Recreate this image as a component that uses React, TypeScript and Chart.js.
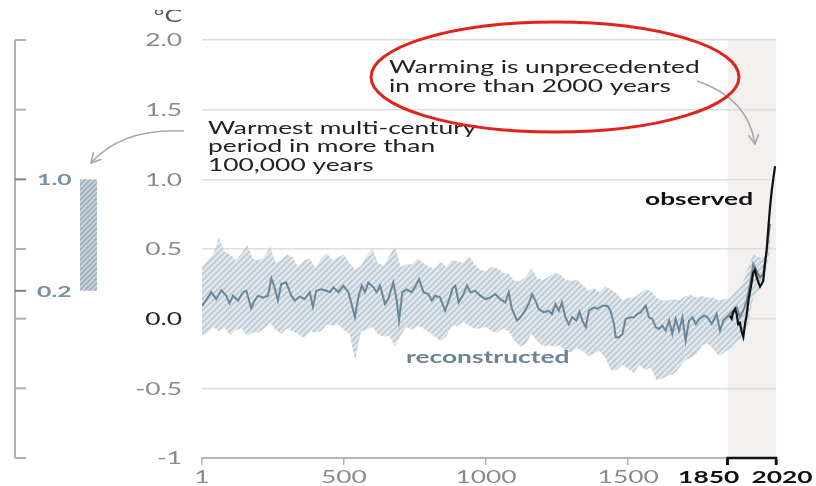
import React, { useEffect, useRef } from "react";
import { Chart, registerables } from "chart.js";

Chart.register(...registerables);

// ---------- data ----------
const bandYears = [
  1, 20, 40, 60, 80, 100, 120, 140, 160, 180, 200,
  220, 240, 260, 280, 300, 320, 340, 360, 380, 400,
  420, 440, 460, 480, 500, 520, 540, 560, 580, 600,
  620, 640, 660, 680, 700, 720, 740, 760, 780, 800,
  820, 840, 860, 880, 900, 920, 940, 960, 980, 1000,
  1020, 1040, 1060, 1080, 1100, 1120, 1140, 1160, 1180, 1200,
  1220, 1240, 1260, 1280, 1300, 1320, 1340, 1360, 1380, 1400,
  1420, 1440, 1460, 1480, 1500, 1520, 1540, 1560, 1580, 1600,
  1620, 1640, 1660, 1680, 1700, 1720, 1740, 1760, 1780, 1800,
  1820, 1840, 1860, 1880, 1900, 1920, 1940, 1960, 1980, 2000,
];
const bandUpper = [
  0.37, 0.42, 0.46, 0.58, 0.48, 0.46, 0.42, 0.47, 0.53, 0.43, 0.42,
  0.44, 0.52, 0.40, 0.42, 0.46, 0.44, 0.37, 0.42, 0.43, 0.36,
  0.43, 0.47, 0.42, 0.44, 0.46, 0.40, 0.35, 0.38, 0.45, 0.50,
  0.40, 0.38, 0.45, 0.52, 0.37, 0.39, 0.39, 0.43, 0.40, 0.37,
  0.36, 0.41, 0.37, 0.42, 0.41, 0.40, 0.45, 0.39, 0.35, 0.34,
  0.37, 0.36, 0.33, 0.32, 0.27, 0.27, 0.30, 0.36, 0.29, 0.28,
  0.30, 0.33, 0.32, 0.28, 0.27, 0.28, 0.24, 0.20, 0.22, 0.19,
  0.23, 0.21, 0.18, 0.13, 0.15, 0.15, 0.18, 0.21, 0.20, 0.15,
  0.13, 0.13, 0.14, 0.13, 0.16, 0.17, 0.15, 0.16, 0.15, 0.15,
  0.13, 0.14, 0.15, 0.20, 0.24, 0.36, 0.46, 0.44, 0.44, 0.62,
];
const bandLower = [
  -0.12, -0.10, -0.06, -0.09, -0.06, -0.12, -0.08, -0.07, -0.12, -0.10, -0.10,
  -0.07, -0.03, -0.08, -0.11, -0.07, -0.09, -0.11, -0.14, -0.09, -0.10,
  -0.09, -0.04, -0.05, -0.04, -0.08, -0.11, -0.30, -0.09, -0.08, -0.06,
  -0.11, -0.13, -0.12, -0.20, -0.12, -0.06, -0.08, -0.05, -0.07, -0.10,
  -0.13, -0.16, -0.13, -0.05, -0.05, -0.02, -0.05, -0.07, -0.07, -0.06,
  -0.09, -0.10, -0.07, -0.09, -0.16, -0.20, -0.18, -0.11, -0.16, -0.20,
  -0.19, -0.20, -0.19, -0.24, -0.24, -0.21, -0.23, -0.27, -0.25, -0.23,
  -0.28, -0.37, -0.37, -0.33, -0.36, -0.39, -0.33, -0.37, -0.35, -0.44,
  -0.43, -0.41, -0.40, -0.35, -0.30, -0.28, -0.26, -0.19, -0.18, -0.22,
  -0.27, -0.24, -0.21, -0.17, -0.14, -0.05, 0.15, 0.20, 0.29, 0.50,
];

const medianYears = [
  1, 34, 51, 69, 86, 98, 110, 128, 145, 157, 174, 186, 198, 216, 233, 245, 257, 268, 280, 297,
  315, 327, 345, 362, 380, 391, 403, 421, 438, 451, 463, 481, 498, 516, 527, 539, 551, 563, 574, 586,
  604, 615, 627, 645, 656, 674, 686, 694, 706, 721, 738, 750, 764, 780, 797, 809, 821, 838, 856, 873,
  883, 892, 904, 921, 933, 945, 962, 980, 998, 1015, 1033, 1050, 1068, 1080, 1091, 1109, 1121, 1133, 1150, 1162,
  1174, 1185, 1203, 1220, 1232, 1244, 1256, 1267, 1279, 1291, 1303, 1318, 1329, 1339, 1351, 1362, 1380, 1392, 1409, 1427,
  1438, 1450, 1456, 1468, 1480, 1491, 1509, 1521, 1532, 1544, 1562, 1573, 1585, 1597, 1609, 1620, 1632, 1644, 1655, 1667,
  1679, 1691, 1702, 1714, 1726, 1738, 1751, 1767, 1779, 1794, 1811, 1823, 1835, 1847, 1858, 1870, 1882, 1893, 1905, 1917,
  1929, 1940, 1952, 1964, 1975, 1987, 1999,
];
const medianValues = [
  0.09, 0.19, 0.14, 0.205, 0.165, 0.11, 0.165, 0.13, 0.19, 0.2, 0.076, 0.13, 0.165, 0.15, 0.165, 0.29, 0.22, 0.13, 0.25, 0.26,
  0.165, 0.13, 0.16, 0.14, 0.19, 0.086, 0.2, 0.21, 0.2, 0.19, 0.225, 0.19, 0.237, 0.19, 0.105, 0.01, 0.153, 0.237, 0.19, 0.26,
  0.225, 0.19, 0.237, 0.105, 0.14, 0.26, 0.13, -0.014, 0.19, 0.21, 0.19, 0.225, 0.284, 0.19, 0.177, 0.13, 0.165, 0.153, 0.057, 0.153,
  0.22, 0.237, 0.117, 0.177, 0.237, 0.19, 0.2, 0.165, 0.14, 0.153, 0.177, 0.14, 0.117, 0.19, 0.07, -0.014, 0.01, 0.045, 0.105, 0.177,
  0.13, 0.07, 0.045, 0.057, 0.033, 0.105, 0.057, 0.117, 0.01, -0.04, 0.01, -0.014, 0.05, -0.014, -0.062, 0.057, 0.081, 0.07, 0.093, 0.093,
  0.057, -0.038, -0.134, -0.134, -0.11, -0.002, 0.01, 0.01, 0.033, 0.045, 0.093, 0.01, -0.002, -0.062, -0.074, -0.05, -0.086, -0.014, -0.11, -0.002,
  -0.086, 0.01, -0.158, -0.014, 0.01, -0.038, 0.0, 0.022, 0.01, -0.038, 0.033, -0.086, -0.014, 0.01, 0.033, 0.057, 0.081, 0.01, 0.057, 0.129,
  0.249, 0.392, 0.344, 0.296, 0.32, 0.487, 0.68,
];

const observedYears = [
  1858, 1864, 1870, 1876, 1882, 1887, 1893, 1899, 1905, 1911, 1917, 1923, 1929, 1935, 1940,
  1946, 1952, 1958, 1964, 1970, 1975, 1981, 1987, 1993, 1999, 2005, 2011, 2016, 2020,
];
const observedValues = [
  0.02, 0.0, 0.05, 0.07, 0.03, -0.04, -0.03, -0.09, -0.13, -0.04, 0.03, 0.13, 0.2, 0.27, 0.33,
  0.35, 0.3, 0.26, 0.23, 0.25, 0.27, 0.39, 0.49, 0.65, 0.8, 0.92, 1.01, 1.085, 1.09,
];

const xTickValues = [1, 500, 1000, 1500, 1850, 2020];
const observedPeriod = [1850, 2020];
const yMin = -1;
const yMax = 2;
const yStep = 0.5;
const leftAxisTicks = [2, 1.5, 1, 0.5, 0.2, 0, -0.5, -1];
const warmestRange = [0.2, 1.0];

const FONT = "Lato, 'Open Sans', sans-serif";
const SX = 1.55;

function drawText(
  ctx: CanvasRenderingContext2D,
  str: string,
  x: number,
  y: number,
  size: number,
  color: string,
  align: CanvasTextAlign = "left",
  weight = "normal",
  baseline: CanvasTextBaseline = "alphabetic"
) {
  ctx.save();
  ctx.translate(x, y);
  ctx.scale(SX, 1);
  ctx.font = `${weight} ${size}px ${FONT}`;
  ctx.fillStyle = color;
  ctx.textAlign = align;
  ctx.textBaseline = baseline;
  ctx.fillText(str, 0, 0);
  ctx.restore();
}

function makeHatch(ctx: CanvasRenderingContext2D, bg: string, fg: string, size: number, lw: number) {
  const c = document.createElement("canvas");
  c.width = size;
  c.height = size;
  const g = c.getContext("2d")!;
  g.fillStyle = bg;
  g.fillRect(0, 0, size, size);
  g.strokeStyle = fg;
  g.lineWidth = lw;
  g.beginPath();
  g.moveTo(0, size);
  g.lineTo(size, 0);
  g.moveTo(-size / 2, size / 2);
  g.lineTo(size / 2, -size / 2);
  g.moveTo(size / 2, size * 1.5);
  g.lineTo(size * 1.5, size / 2);
  g.stroke();
  return ctx.createPattern(c, "repeat")!;
}

function arrow(ctx: CanvasRenderingContext2D, x0: number, y0: number, cx: number, cy: number, x1: number, y1: number) {
  ctx.save();
  ctx.strokeStyle = "#a8a8a8";
  ctx.lineWidth = 1.6;
  ctx.beginPath();
  ctx.moveTo(x0, y0);
  ctx.quadraticCurveTo(cx, cy, x1, y1);
  ctx.stroke();
  const ang = Math.atan2(y1 - cy, x1 - cx);
  const L = 11;
  ctx.beginPath();
  ctx.moveTo(x1 - L * Math.cos(ang - 0.5), y1 - L * Math.sin(ang - 0.5));
  ctx.lineTo(x1, y1);
  ctx.lineTo(x1 - L * Math.cos(ang + 0.5), y1 - L * Math.sin(ang + 0.5));
  ctx.stroke();
  ctx.restore();
}

export default function App() {
  const ref = useRef<HTMLCanvasElement | null>(null);

  useEffect(() => {
    document.body.style.margin = "0";
    const canvas = ref.current!;
    const ctx = canvas.getContext("2d")!;
    const bandPattern = makeHatch(ctx, "#c3cfd8", "#e8edf1", 6, 1.7);
    const barPattern = makeHatch(ctx, "#c9d2da", "#97a9b7", 5, 1.4);

    const shadePlugin = {
      id: "shade",
      beforeDraw(chart: any) {
        const { ctx, chartArea, scales } = chart;
        const x0 = scales.x.getPixelForValue(observedPeriod[0]);
        const x1 = scales.x.getPixelForValue(observedPeriod[1]);
        ctx.save();
        ctx.fillStyle = "#f4f0ef";
        ctx.fillRect(x0, chartArea.top, x1 - x0, chartArea.bottom - chartArea.top);
        ctx.restore();
      },
    };

    const decorPlugin = {
      id: "decor",
      afterDraw(chart: any) {
        const { ctx, scales } = chart;
        const xs = scales.x;
        const ys = scales.y;
        const bottom = chart.chartArea.bottom;

        // y tick labels
        ys.ticks.forEach((t: any) => {
          const v = t.value;
          const label = v === -1 ? "-1" : v.toFixed(1);
          drawText(ctx, label, 182, ys.getPixelForValue(v) + 1, 17, v === 0 ? "#222" : "#8a8a8a", "right", "normal", "middle");
        });
        // unit label, partly cut at the top as in the source image
        ctx.save();
        ctx.beginPath();
        ctx.rect(140, 10, 60, 20);
        ctx.clip();
        drawText(ctx, "°C", 182, 22, 17, "#555", "right");
        ctx.restore();

        // x tick labels
        xs.ticks.forEach((t: any) => {
          const v = t.value;
          const px = xs.getPixelForValue(v);
          const strong = v >= observedPeriod[0];
          let cx = px;
          if (v === observedPeriod[0]) cx = px - 19;
          if (v === observedPeriod[1]) cx = px + 6;
          drawText(ctx, String(v), cx, 478, 17, strong ? "#111" : "#8a8a8a", "center", strong ? "bold" : "normal", "middle");
        });

        // black bracket for observed period
        const b0 = xs.getPixelForValue(observedPeriod[0]);
        const b1 = xs.getPixelForValue(observedPeriod[1]);
        ctx.save();
        ctx.strokeStyle = "#111";
        ctx.lineWidth = 2.5;
        ctx.beginPath();
        ctx.moveTo(b0, bottom + 7);
        ctx.lineTo(b0, bottom);
        ctx.lineTo(b1, bottom);
        ctx.lineTo(b1, bottom + 7);
        ctx.stroke();
        ctx.restore();

        // left mini axis
        ctx.save();
        ctx.strokeStyle = "#b0b0b0";
        ctx.lineWidth = 2;
        ctx.beginPath();
        ctx.moveTo(15, ys.getPixelForValue(yMax));
        ctx.lineTo(15, ys.getPixelForValue(yMin));
        ctx.stroke();
        leftAxisTicks.forEach((v) => {
          const py = ys.getPixelForValue(v);
          const hl = warmestRange.includes(v);
          ctx.strokeStyle = hl ? "#6f8799" : "#b0b0b0";
          ctx.beginPath();
          ctx.moveTo(15, py);
          ctx.lineTo(26, py);
          ctx.stroke();
        });
        ctx.restore();
        warmestRange.forEach((v) => {
          drawText(ctx, v.toFixed(1), 37, ys.getPixelForValue(v) + 1, 16, "#7690a4", "left", "bold", "middle");
        });
        const yTop = ys.getPixelForValue(warmestRange[1]);
        const yBot = ys.getPixelForValue(warmestRange[0]);
        ctx.save();
        ctx.fillStyle = barPattern;
        ctx.fillRect(80, yTop, 17, yBot - yTop);
        ctx.restore();

        // annotations
        drawText(ctx, "Warmest multi-century", 208, 134, 17, "#222");
        drawText(ctx, "period in more than", 208, 152, 17, "#222");
        drawText(ctx, "100,000 years", 208, 171, 17, "#222");
        arrow(ctx, 184, 131, 122, 128, 91, 163);

        drawText(ctx, "Warming is unprecedented", 389, 73, 17, "#222");
        drawText(ctx, "in more than 2000 years", 389, 92, 17, "#222");
        arrow(ctx, 697, 81, 748, 98, 755, 144);

        ctx.save();
        ctx.strokeStyle = "#e2231c";
        ctx.lineWidth = 3;
        ctx.beginPath();
        ctx.ellipse(555, 77, 184, 55, 0, 0, Math.PI * 2);
        ctx.stroke();
        ctx.restore();

        drawText(ctx, "observed", 645, 205, 17, "#111", "left", "bold");
        drawText(ctx, "reconstructed", 406, 363, 17, "#6b8494", "left", "bold");
      },
    };

    const chart = new Chart(canvas, {
      type: "line",
      data: {
        datasets: [
          {
            label: "observed",
            data: observedYears.map((x, i) => ({ x, y: observedValues[i] })),
            borderColor: "#111",
            borderWidth: 2.2,
            pointRadius: 0,
            fill: false,
          },
          {
            label: "reconstructed",
            data: medianYears.map((x, i) => ({ x, y: medianValues[i] })),
            borderColor: "#6b8797",
            borderWidth: 2,
            pointRadius: 0,
            fill: false,
          },
          {
            label: "upper",
            data: bandYears.map((x, i) => ({ x, y: bandUpper[i] })),
            borderWidth: 0,
            borderColor: "rgba(0,0,0,0)",
            backgroundColor: bandPattern,
            pointRadius: 0,
            fill: "+1",
          },
          {
            label: "lower",
            data: bandYears.map((x, i) => ({ x, y: bandLower[i] })),
            borderWidth: 0,
            borderColor: "rgba(0,0,0,0)",
            pointRadius: 0,
            fill: false,
          },
        ],
      },
      options: {
        animation: false,
        responsive: false,
        maintainAspectRatio: false,
        devicePixelRatio: 1,
        layout: { padding: { left: 0, right: 40, top: 40, bottom: 0 } },
        plugins: { legend: { display: false }, tooltip: { enabled: false } },
        scales: {
          x: {
            type: "linear",
            min: 1,
            max: 2020,
            afterBuildTicks: (s: any) => {
              s.ticks = xTickValues.map((v) => ({ value: v }));
            },
            afterFit: (s: any) => {
              s.height = 28;
            },
            ticks: { display: false },
            grid: {
              drawOnChartArea: false,
              drawTicks: true,
              tickLength: 7,
              color: (c: any) => (c.tick && c.tick.value >= observedPeriod[0] ? "#111" : "#b5b5b5"),
              lineWidth: (c: any) => (c.tick && c.tick.value >= observedPeriod[0] ? 2.5 : 1.5),
            },
            border: { display: true, color: "#b5b5b5", width: 2 },
          },
          y: {
            min: yMin,
            max: yMax,
            ticks: { stepSize: yStep, display: false },
            afterFit: (s: any) => {
              s.width = 202;
            },
            grid: { color: "#dedede", lineWidth: 1.5, drawTicks: false },
            border: { display: false },
          },
        },
      },
      plugins: [shadePlugin, decorPlugin],
    } as any);

    return () => chart.destroy();
  }, []);

  return (
    <div style={{ width: 816, height: 486, background: "#fff" }}>
      <canvas ref={ref} width={816} height={486} style={{ display: "block" }} />
    </div>
  );
}
